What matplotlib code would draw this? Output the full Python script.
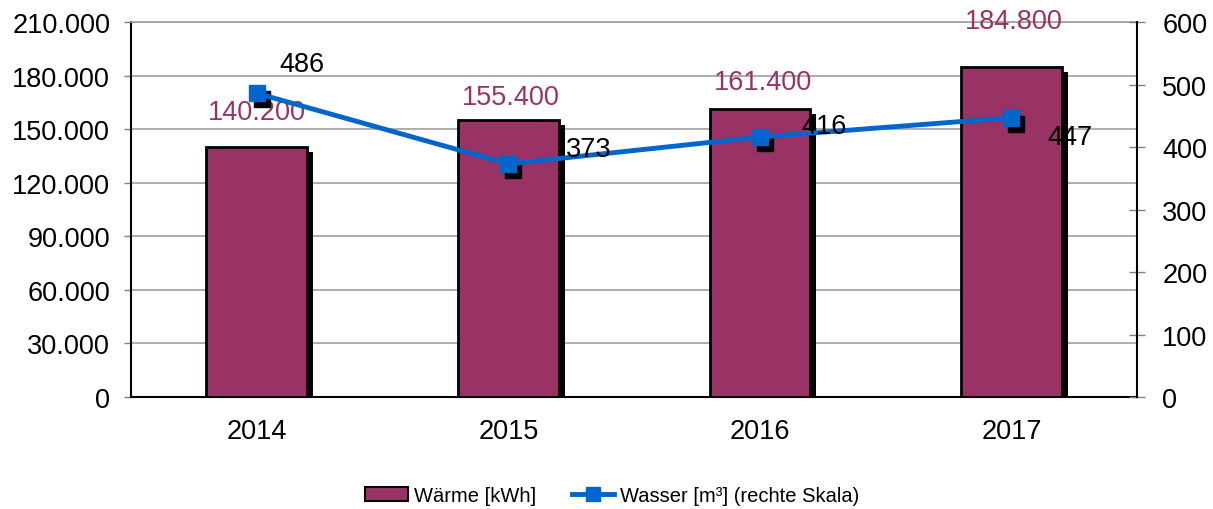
import matplotlib.pyplot as plt
import matplotlib.transforms as mtransforms
from matplotlib.lines import Line2D
from matplotlib.patches import Patch

plt.rcParams["font.family"] = ["Liberation Sans", "DejaVu Sans"]

years = ["2014", "2015", "2016", "2017"]
waerme_kwh = [140200, 155400, 161400, 184800]
wasser_m3 = [486, 373, 416, 447]

bar_color = "#993366"
line_color = "#0066CC"

# label offsets in pixels (dx, dy)
bar_label_offsets = [(0, 35), (2, 23), (3, 27), (2, 46)]
line_label_offsets = [(45, 29), (80, 15), (64, 11), (59, -19)]


def de_fmt(v):
    return f"{v:,.0f}".replace(",", ".")


fig = plt.figure(figsize=(12.13, 5.10), dpi=100)
ax = fig.add_axes([0.108, 0.2196, 0.8295, 0.7352])
ax2 = ax.twinx()

x = list(range(len(years)))
width = 0.40

# bars with drop shadow
shadow = mtransforms.offset_copy(ax.transData, fig=fig, x=6, y=-5, units="dots")
ax.bar(x, waerme_kwh, width=width, color="black", transform=shadow, zorder=2)
ax.bar(x, waerme_kwh, width=width, color=bar_color, edgecolor="black",
       linewidth=2, zorder=3)

for i, v in enumerate(waerme_kwh):
    dx, dy = bar_label_offsets[i]
    ax.annotate(de_fmt(v), (i, v), xytext=(dx, dy), textcoords="offset pixels",
                ha="center", va="center", fontsize=19.5, color=bar_color, zorder=5)

ax.set_xlim(-0.5, 3.5)
ax.set_ylim(0, 210000)
ax.set_yticks(range(0, 210001, 30000))
ax.set_yticklabels([de_fmt(t) for t in range(0, 210001, 30000)])
ax.set_xticks(x)
ax.set_xticklabels(years)
ax.tick_params(axis="x", length=0, pad=15, labelsize=19.5)
ax.tick_params(axis="y", length=5, width=1, color="#808080", pad=10, labelsize=19.5)
ax.grid(axis="y", color="#A0A0A0", linewidth=1.2, zorder=0)
ax.set_axisbelow(True)

for s in ["left", "bottom"]:
    ax.spines[s].set_color("black")
    ax.spines[s].set_linewidth(1.5)
ax.spines["top"].set_color("#A0A0A0")
ax.spines["top"].set_linewidth(1.2)
ax.spines["right"].set_visible(False)

# water line on the right axis, square markers with shadow
mshadow = mtransforms.offset_copy(ax2.transData, fig=fig, x=5, y=-6, units="dots")
ax2.plot(x, wasser_m3, linestyle="none", marker="s", markersize=12,
         color="black", transform=mshadow, zorder=3)
ax2.plot(x, wasser_m3, color=line_color, linewidth=3.5, marker="s",
         markersize=12, zorder=4)
for i, v in enumerate(wasser_m3):
    dx, dy = line_label_offsets[i]
    ax2.annotate(str(v), (i, v), xytext=(dx, dy), textcoords="offset pixels",
                 ha="center", va="center", fontsize=19.5, color="black", zorder=5)

ax2.set_ylim(0, 600)
ax2.set_yticks(range(0, 601, 100))
ax2.tick_params(axis="y", direction="inout", length=12, width=1, color="#808080",
                pad=12, labelsize=19.5)
ax2.spines["right"].set_color("black")
ax2.spines["right"].set_linewidth(1.5)
for s in ["left", "top", "bottom"]:
    ax2.spines[s].set_visible(False)

handles = [
    Patch(facecolor=bar_color, edgecolor="black", linewidth=1.5),
    Line2D([0], [0], color=line_color, linewidth=3.5, marker="s", markersize=10),
]
fig.legend(handles, ["Wärme [kWh]", "Wasser [m³] (rechte Skala)"],
           loc="center", bbox_to_anchor=(0.505, 0.027), ncol=2, frameon=False,
           fontsize=14.5, handlelength=2.1, handletextpad=0.3, columnspacing=1.8)

fig.savefig("out.png", dpi=100)
